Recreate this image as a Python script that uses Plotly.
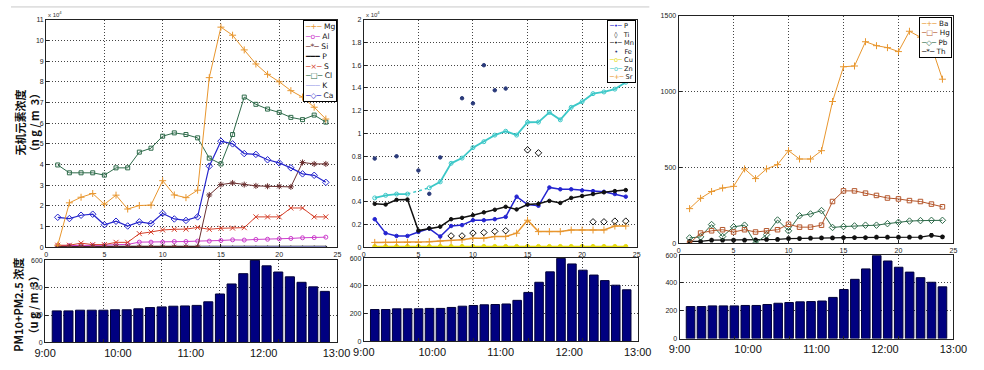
import plotly.graph_objects as go

W, H = 984, 370

# ---------------- data ----------------
idx = list(range(1, 25))
time_pos = [0, 6.25, 12.5, 18.75, 25]
time_labels = ["9:00", "10:00", "11:00", "12:00", "13:00"]

# left panel (x 10^4 ng/m3)
Mg = [0.1, 2.15, 2.42, 2.6, 2.08, 2.52, 1.85, 2.02, 2.04, 3.22, 2.53, 2.4, 2.76, 8.2, 10.64, 10.25, 9.54, 8.86, 8.36, 8.0, 7.57, 7.26, 6.77, 6.2]
Al = [0.08, 0.08, 0.11, 0.1, 0.1, 0.13, 0.14, 0.25, 0.25, 0.25, 0.28, 0.28, 0.3, 0.3, 0.33, 0.36, 0.35, 0.38, 0.39, 0.41, 0.43, 0.46, 0.47, 0.49]
Si = [0.02] * 13 + [2.53, 3.03, 3.11, 3.03, 2.97, 2.95, 2.95, 2.92, 4.1, 4.03, 4.03]
P_left = [0.01] * 24
S = [0.1, 0.1, 0.2, 0.13, 0.13, 0.24, 0.24, 0.66, 0.74, 0.84, 0.87, 0.88, 0.96, 0.87, 0.92, 0.93, 0.95, 1.47, 1.47, 1.47, 1.9, 1.9, 1.47, 1.47]
Cl = [3.98, 3.6, 3.6, 3.6, 3.49, 3.84, 3.84, 4.6, 4.79, 5.37, 5.53, 5.45, 5.29, 4.31, 4.03, 5.45, 7.26, 6.91, 6.68, 6.52, 6.28, 6.17, 6.39, 6.05]
K = [None] * 12 + [0.02] * 12
Ca = [1.45, 1.39, 1.55, 1.6, 1.09, 1.26, 1.03, 1.23, 1.15, 1.64, 1.37, 1.3, 1.47, 3.92, 5.13, 5.0, 4.53, 4.49, 4.23, 4.08, 3.84, 3.55, 3.48, 3.14]

# middle panel (x 10^4 ng/m3)
P_mid = [0.247, 0.124, 0.1, 0.1, 0.135, 0.164, 0.095, 0.187, 0.195, 0.238, 0.238, 0.247, 0.267, 0.445, 0.376, 0.365, 0.526, 0.51, 0.51, 0.5, 0.494, 0.488, 0.468, 0.445]
Ti = [None] * 7 + [0.1, 0.1, 0.125, 0.13, 0.14, 0.146, None, 0.856, 0.83, None, None, None, None, 0.224, 0.224, 0.23, 0.23]
Mn = [0.382, 0.376, 0.417, 0.42, 0.147, 0.167, 0.181, 0.247, 0.259, 0.282, 0.307, 0.33, 0.356, 0.333, 0.376, 0.382, 0.408, 0.39, 0.434, 0.451, 0.468, 0.483, 0.494, 0.503]
Fe = [0.78, None, 0.8, None, 0.675, 0.47, 0.79, None, 1.31, 1.265, 1.6, 1.38, 1.395] + [None] * 11
Cu = [0.008] * 24
Zn = [0.434, 0.457, 0.468, 0.468, None, 0.523, 0.575, 0.738, 0.784, 0.876, 0.928, 0.986, 1.02, 0.986, 1.099, 1.1, 1.185, 1.12, 1.23, 1.28, 1.35, 1.365, 1.39, 1.45]
Sr = [0.043, 0.043, 0.043, 0.043, 0.043, 0.049, 0.055, 0.06, 0.066, 0.08, 0.08, 0.095, 0.095, 0.124, 0.238, 0.138, 0.138, 0.138, 0.152, 0.152, 0.152, 0.152, 0.187, 0.187]

# right panel (ng/m3)
Ba = [229, 297, 342, 365, 376, 491, 427, 491, 519, 611, 556, 556, 611, 935, 1164, 1169, 1329, 1303, 1290, 1264, 1398, 1359, 1299, 1082]
Hg = [0, 68, 83, 90, 75, 90, 75, 83, 90, 126, 107, 107, 120, 276, 346, 346, 331, 316, 299, 293, 282, 276, 259, 241]
Pb = [36, 43, 124, 45, 109, 120, 0, 58, 154, 83, 182, 194, 216, 105, 111, 115, 120, 120, 130, 139, 147, 150, 152, 152]
Th = [13, 13, 21, 21, 21, 21, 23, 26, 26, 32, 32, 34, 36, 36, 38, 38, 38, 41, 41, 41, 41, 41, 53, 43]

# PM10+PM2.5 (ug/m3)
PM = [230, 230, 235, 235, 235, 238, 238, 245, 254, 259, 264, 266, 270, 296, 353, 426, 501, 598, 558, 513, 478, 438, 405, 372]

# ---------------- styles ----------------
C = dict(Mg="#E8962E", Al="#CC3FCC", Si="#6B3030", P="#111111", S="#D5402A", Cl="#2E6B4A",
         K="#A0A2EA", Ca="#2626CC", Pm="#2424D0", Ti="#111111", Mn="#111111", Fe="#2A3A7A",
         Cu="#E6DC10", Zn="#3CC8C8", Sr="#E8962E", Ba="#E8962E", Hg="#B4562B", Pb="#2E6B4A", Th="#111111")

fig = go.Figure()


def line(y, color, sym, xa, ya, size=4, width=1, mode="lines+markers", mlw=1):
    fig.add_trace(go.Scatter(
        x=idx, y=y, mode=mode, xaxis=xa, yaxis=ya, showlegend=False,
        line=dict(color=color, width=width),
        marker=dict(symbol=sym, size=size, color=color, line=dict(color=color, width=mlw)),
        connectgaps=False, hoverinfo="skip"))


# left
line(P_left, C["P"], "circle", "x", "y", size=2, width=2.5)
line(K, C["K"], "circle", "x", "y", mode="lines", width=1.5)
line(Al, C["Al"], "circle-open", "x", "y", size=4)
line(S, C["S"], "x-thin-open", "x", "y", size=5)
line(Si, C["Si"], "asterisk-open", "x", "y", size=5)
line(Ca, C["Ca"], "diamond-open", "x", "y", size=5, width=1.2)
line(Cl, C["Cl"], "square-open", "x", "y", size=4)
line(Mg, C["Mg"], "cross-thin-open", "x", "y", size=5)

# middle
line(Cu, C["Cu"], "circle", "x2", "y2", size=4, width=1.5)
line(Sr, C["Sr"], "cross-thin-open", "x2", "y2", size=5, width=1.5)
line(P_mid, C["Pm"], "circle", "x2", "y2", size=3.5, width=1.5)
line(Mn, C["Mn"], "circle", "x2", "y2", size=3.5, width=1.5)
# dotted connector over the missing Zn sample (from the data itself)
gap = Zn.index(None)
fig.add_trace(go.Scatter(x=[idx[gap - 1], idx[gap + 1]], y=[Zn[gap - 1], Zn[gap + 1]], mode="lines",
                         xaxis="x2", yaxis="y2", showlegend=False, hoverinfo="skip",
                         line=dict(color=C["Zn"], width=1.5, dash="dot")))
line(Zn, C["Zn"], "circle-open", "x2", "y2", size=4, width=1.8)
line(Ti, C["Ti"], "diamond-open", "x2", "y2", size=5, mode="markers")
line(Fe, C["Fe"], "circle", "x2", "y2", size=3.5, mode="markers")

# right
line(Th, C["Th"], "asterisk-open", "x3", "y3", size=4, width=1.2, mlw=1.5)
line(Pb, C["Pb"], "diamond-open", "x3", "y3", size=5)
line(Hg, C["Hg"], "square-open", "x3", "y3", size=4.5)
line(Ba, C["Ba"], "cross-thin-open", "x3", "y3", size=5)

# bars
for xa, ya in (("x4", "y4"), ("x5", "y5"), ("x6", "y6")):
    fig.add_trace(go.Bar(x=idx, y=PM, xaxis=xa, yaxis=ya, width=0.78, showlegend=False,
                         marker=dict(color="#000080", line=dict(color="#00003A", width=1)),
                         hoverinfo="skip"))


# ---------------- axes ----------------
def px(a, b):
    return [a / W, b / W]


def py(top, bottom):
    return [1 - bottom / H, 1 - top / H]


GRID = "#444"
DASH = "1px,2px"
tickf = dict(size=7, color="#222", family="Liberation Sans, Arial")
base = dict(showline=True, linecolor="#222", linewidth=1, mirror=True, ticks="inside", ticklen=3,
            tickcolor="#222", tickfont=tickf, showgrid=True, gridcolor=GRID, griddash=DASH,
            gridwidth=1, zeroline=False, fixedrange=True)

top_x = dict(base, range=[0, 25], tickvals=[0, 5, 10, 15, 20, 25])
bot_x = dict(base, range=[0, 25], tickvals=time_pos, ticktext=time_labels, showgrid=False, ticks="",
             tickfont=dict(size=11, color="#111", family="Liberation Sans, Arial"),
             minor=dict(tickvals=[5, 10, 15, 20], showgrid=True, gridcolor=GRID, griddash=DASH,
                        gridwidth=1, ticks="inside", ticklen=3, tickcolor="#222"))
bot_y = dict(base, range=[0, 600], tickvals=[0, 200, 400, 600])

fig.update_layout(
    xaxis=dict(top_x, domain=px(36, 335), anchor="y"),
    yaxis=dict(base, domain=py(16, 248), range=[0, 11], dtick=1, anchor="x"),
    xaxis2=dict(top_x, domain=px(362, 642), anchor="y2"),
    yaxis2=dict(base, domain=py(16, 248), range=[0, 2], dtick=0.2, anchor="x2"),
    xaxis3=dict(top_x, domain=px(685, 967), anchor="y3"),
    yaxis3=dict(base, domain=py(12, 244), range=[0, 1500], dtick=500, anchor="x3"),
    xaxis4=dict(bot_x, domain=px(35, 334), anchor="y4"),
    yaxis4=dict(bot_y, domain=py(261, 345), anchor="x4"),
    xaxis5=dict(bot_x, domain=px(362, 643), anchor="y5"),
    yaxis5=dict(bot_y, domain=py(259, 344), anchor="x5"),
    xaxis6=dict(bot_x, domain=px(686, 967), anchor="y6"),
    yaxis6=dict(bot_y, domain=py(256, 341), anchor="x6"),
)


# ---------------- legends (as annotation boxes) ----------------
def legend_text(entries):
    return "<br>".join(f"<span style='color:{c}'>{g}</span> {n}" for n, c, g in entries)


leg_left = [("Mg", C["Mg"], "─+─"), ("Al", C["Al"], "─o─"), ("Si", C["Si"], "─*─"),
            ("P", C["P"], "━━━"), ("S", C["S"], "─×─"), ("Cl", C["Cl"], "─□─"),
            ("K", C["K"], "───"), ("Ca", C["Ca"], "─◇─")]
leg_mid = [("P", C["Pm"], "─•─"), ("Ti", C["Ti"], "  ◊  "), ("Mn", C["Mn"], "─•─"),
           ("Fe", C["Fe"], "  •  "), ("Cu", C["Cu"], "─o─"), ("Zn", C["Zn"], "─o─"),
           ("Sr", C["Sr"], "─+─")]
leg_right = [("Ba", C["Ba"], "─+─"), ("Hg", C["Hg"], "─□─"), ("Pb", C["Pb"], "─◇─"),
             ("Th", C["Th"], "─*─")]

annos = []
for entries, xr, ytop, fs in ((leg_left, 334, 16, 7.6), (leg_mid, 641, 16, 6.6), (leg_right, 966, 13, 7.2)):
    annos.append(dict(text=legend_text(entries), xref="paper", yref="paper", x=xr / W, y=1 - ytop / H,
                      xanchor="right", yanchor="top", align="left", showarrow=False,
                      bordercolor="#000", borderwidth=1, borderpad=1, bgcolor="white",
                      font=dict(size=fs, color="#111", family="DejaVu Sans")))

# exponent markers
for xl in (36, 362):
    annos.append(dict(text="x 10<sup>4</sup>", xref="paper", yref="paper", x=xl / W, y=1 - 4 / H,
                      xanchor="left", yanchor="top", showarrow=False,
                      font=dict(size=6, color="#333", family="Liberation Sans, Arial")))

# y titles
title_font = dict(size=11, color="#111", family="Noto Sans CJK SC")
annos.append(dict(text="<b>无机元素浓度</b><br><b>（n g / m  3）</b>", xref="paper", yref="paper",
                  x=16 / W, y=1 - 121 / H, xanchor="center", yanchor="middle", textangle=-90,
                  showarrow=False, font=title_font))
annos.append(dict(text="<b>PM10+PM2.5 浓度</b><br><b>（u g / m  3）</b>", xref="paper", yref="paper",
                  x=15 / W, y=1 - 307 / H, xanchor="center", yanchor="middle", textangle=-90,
                  showarrow=False, font=title_font))

fig.update_layout(
    annotations=annos,
    shapes=[dict(type="line", xref="paper", yref="paper", x0=0, x1=655 / W, y0=1 - 3 / H, y1=1 - 3 / H,
                 line=dict(color="#C8C8C8", width=1))],
    width=W, height=H, margin=dict(l=0, r=0, t=0, b=0),
    paper_bgcolor="white", plot_bgcolor="white", bargap=0.2, showlegend=False,
)

fig.write_html("out.html", config={"displayModeBar": False},
               post_script="document.body.style.margin='0';")
